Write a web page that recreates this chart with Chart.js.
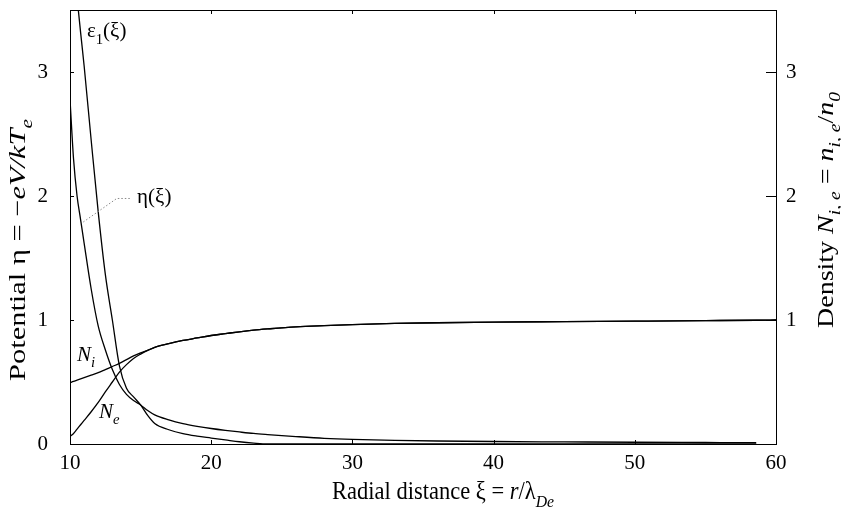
<!DOCTYPE html>
<html>
<head>
<meta charset="utf-8">
<script src="https://cdn.jsdelivr.net/npm/chart.js@4/dist/chart.umd.min.js"></script>
<style>
  body { margin: 0; background: #fff; }
  #wrap { width: 841px; height: 512px; position: relative; }
</style>
</head>
<body>
<div id="wrap"><canvas id="chart1"></canvas></div>
<script>
// radial distance grid (xi = r / lambda_De)
const xi = [10, 10.25, 10.5, 10.75, 11, 11.5, 12, 12.5, 13, 13.5, 14, 14.5, 15, 15.5, 16, 17, 18, 19, 20, 21, 22, 23, 24, 26, 28, 30, 33, 36, 40, 45, 50, 55, 58.6, 60];

// potential eta(xi)
const eta = [2.78, 2.30, 2.00, 1.81, 1.62, 1.25, 0.95, 0.76, 0.60, 0.48, 0.40, 0.35, 0.315, 0.27, 0.235, 0.195, 0.165, 0.143, 0.125, 0.11, 0.097, 0.085, 0.076, 0.06, 0.046, 0.037, 0.029, 0.024, 0.02, 0.017, 0.014, 0.012, 0.011, null];

// field epsilon_1(xi)
const eps1 = [4.2, 3.88, 3.6, 3.32, 3.05, 2.45, 1.87, 1.37, 1.0, 0.63, 0.45, 0.38, 0.315, 0.23, 0.165, 0.115, 0.083, 0.063, 0.048, 0.033, 0.018, 0.007, 0, 0, 0, 0, 0, 0, 0, 0, 0, 0, 0, null];

// ion and electron densities
const ni = [0.494, 0.505, 0.515, 0.525, 0.535, 0.555, 0.575, 0.60, 0.625, 0.65, 0.68, 0.71, 0.735, 0.755, 0.78, 0.81, 0.835, 0.855, 0.875, 0.89, 0.905, 0.918, 0.928, 0.945, 0.955, 0.963, 0.972, 0.978, 0.983, 0.987, 0.991, 0.995, 0.998, 1.0];
const ne = [0.06, 0.085, 0.12, 0.155, 0.19, 0.26, 0.335, 0.42, 0.50, 0.58, 0.64, 0.69, 0.725, 0.755, 0.78, 0.81, 0.835, 0.855, 0.875, 0.89, 0.905, 0.918, 0.928, 0.945, 0.955, 0.963, 0.972, 0.978, 0.983, 0.987, 0.991, 0.995, 0.998, 1.0];

const xTicks = [10, 20, 30, 40, 50, 60];
const leftTicks = [0, 1, 2, 3];
const rightTicks = [1, 2, 3];

const SERIF = "'Liberation Serif', 'Times New Roman', serif";
const FS = 21;

const pts = (ys) => xi.map((x, i) => ({ x: x, y: ys[i] })).filter(p => p.y !== null);

const line = (ys) => ({
    data: pts(ys),
    borderColor: '#000',
    borderWidth: 1.3,
    pointRadius: 0,
    fill: false,
    cubicInterpolationMode: 'monotone'
});

// text made of runs: plain, italic, subscript
const setFont = (ctx, r, size) => {
    ctx.font = (r.it ? 'italic ' : '') + (r.sub ? size * 0.7 : size) + 'px ' + SERIF;
}

const richWidth = (ctx, runs, size) => {
    let w = 0;
    runs.forEach(r => {
        setFont(ctx, r, size);
        w += ctx.measureText(r.t).width;
    });
    return w;
}

const drawRich = (ctx, runs, x, y, size) => {
    let cx = x;
    ctx.fillStyle = '#000';
    ctx.textBaseline = 'alphabetic';
    ctx.textAlign = 'left';
    runs.forEach(r => {
        setFont(ctx, r, size);
        ctx.fillText(r.t, cx, r.sub ? y + size * 0.3 : y);
        cx += ctx.measureText(r.t).width;
    });
}

// axis title centred on (x, y), run fitted to `length`, glyph height scaled by `tall`
const drawTitle = (ctx, runs, x, y, angle, size, length, tall) => {
    const w = richWidth(ctx, runs, size);
    ctx.save();
    ctx.translate(x, y);
    ctx.rotate(angle);
    ctx.scale(length / w, tall);
    drawRich(ctx, runs, -w / 2, 0, size);
    ctx.restore();
}

const xTitle = [{ t: 'Radial distance ξ = ' }, { t: 'r', it: true }, { t: '/λ' }, { t: 'De', it: true, sub: true }];
const leftTitle = [{ t: 'Potential η = −' }, { t: 'eV/kT', it: true }, { t: 'e', it: true, sub: true }];
const rightTitle = [{ t: 'Density ' }, { t: 'N', it: true }, { t: 'i, e', it: true, sub: true }, { t: ' = ' }, { t: 'n', it: true }, { t: 'i, e', it: true, sub: true }, { t: '/' }, { t: 'n', it: true }, { t: '0', it: true, sub: true }];

// curve labels, placed in data units
const curveLabels = [
    { x: 11.2, y: 3.28, runs: [{ t: 'ε' }, { t: '1', sub: true }, { t: '(ξ)' }] },
    { x: 14.75, y: 1.94, runs: [{ t: 'η(ξ)' }] },
    { x: 10.5, y: 0.67, runs: [{ t: 'N', it: true }, { t: 'i', it: true, sub: true }] },
    { x: 12.05, y: 0.21, runs: [{ t: 'N', it: true }, { t: 'e', it: true, sub: true }] }
];
const leader = [[10.94, 1.79], [13.31, 1.98], [14.37, 1.98]];

const framePlugin = {
    id: 'frame',
    afterDraw(chart) {
        const ctx = chart.ctx;
        const a = chart.chartArea;
        const sx = chart.scales.x, sy = chart.scales.y, sy2 = chart.scales.y2;
        ctx.save();
        ctx.strokeStyle = '#000';
        ctx.lineWidth = 1;
        ctx.strokeRect(a.left + 0.5, a.top + 0.5, a.right - a.left, a.bottom - a.top);
        ctx.beginPath();
        xTicks.forEach(v => {
            const px = Math.round(sx.getPixelForValue(v)) + 0.5;
            ctx.moveTo(px, a.bottom); ctx.lineTo(px, a.bottom - 4);
            ctx.moveTo(px, a.top); ctx.lineTo(px, a.top + 4);
        });
        leftTicks.forEach(v => {
            const py = Math.round(sy.getPixelForValue(v)) + 0.5;
            ctx.moveTo(a.left, py); ctx.lineTo(a.left + 4, py);
        });
        rightTicks.forEach(v => {
            const py = Math.round(sy2.getPixelForValue(v)) + 0.5;
            ctx.moveTo(a.right, py); ctx.lineTo(a.right - 10, py);
        });
        ctx.stroke();

        // dotted leader to the eta label
        ctx.strokeStyle = '#888';
        ctx.setLineDash([1.5, 2]);
        ctx.beginPath();
        leader.forEach((p, i) => {
            const px = sx.getPixelForValue(p[0]), py = sy.getPixelForValue(p[1]);
            if (i === 0) ctx.moveTo(px, py); else ctx.lineTo(px, py);
        });
        ctx.stroke();
        ctx.setLineDash([]);

        curveLabels.forEach(l => {
            drawRich(ctx, l.runs, sx.getPixelForValue(l.x), sy.getPixelForValue(l.y), FS);
        });

        drawTitle(ctx, xTitle, 443, 499, 0, FS, 222, 1.2);
        drawTitle(ctx, leftTitle, 25, 250, -Math.PI / 2, 23, 262, 1);
        drawTitle(ctx, rightTitle, 833, 210, -Math.PI / 2, 23, 236, 1);
        ctx.restore();
    }
};

const tickFont = { family: SERIF, size: FS };

// keep the plot box where the layout puts it, without label overhang padding
const noPad = (s) => {
    s.paddingTop = 0; s.paddingBottom = 0; s.paddingLeft = 0; s.paddingRight = 0;
}

new Chart(document.getElementById('chart1'), {
    type: 'line',
    data: {
        datasets: [line(eps1), line(eta), line(ni), line(ne)]
    },
    options: {
        responsive: true,
        maintainAspectRatio: false,
        animation: false,
        layout: { padding: { top: 10, left: 0, right: 0, bottom: 0 } },
        plugins: { legend: { display: false }, tooltip: { enabled: false } },
        scales: {
            x: {
                type: 'linear',
                min: 10,
                max: 60,
                grid: { display: false, drawTicks: false },
                border: { display: false },
                afterBuildTicks: (s) => { s.ticks = xTicks.map(v => ({ value: v })); },
                afterFit: (s) => { s.height = 68; noPad(s); },
                ticks: { font: tickFont, color: '#000', padding: 7, maxRotation: 0 }
            },
            y: {
                type: 'linear',
                position: 'left',
                min: 0,
                max: 3.5,
                grid: { display: false, drawTicks: false },
                border: { display: false },
                afterBuildTicks: (s) => { s.ticks = leftTicks.map(v => ({ value: v })); },
                afterFit: (s) => { s.width = 70; noPad(s); },
                ticks: { font: tickFont, color: '#000', padding: 22 }
            },
            y2: {
                type: 'linear',
                position: 'right',
                min: 0,
                max: 3.5,
                grid: { display: false, drawTicks: false },
                border: { display: false },
                afterBuildTicks: (s) => { s.ticks = rightTicks.map(v => ({ value: v })); },
                afterFit: (s) => { s.width = 65; noPad(s); },
                ticks: { font: tickFont, color: '#000', padding: 10 }
            }
        }
    },
    plugins: [framePlugin]
});
</script>
</body>
</html>
